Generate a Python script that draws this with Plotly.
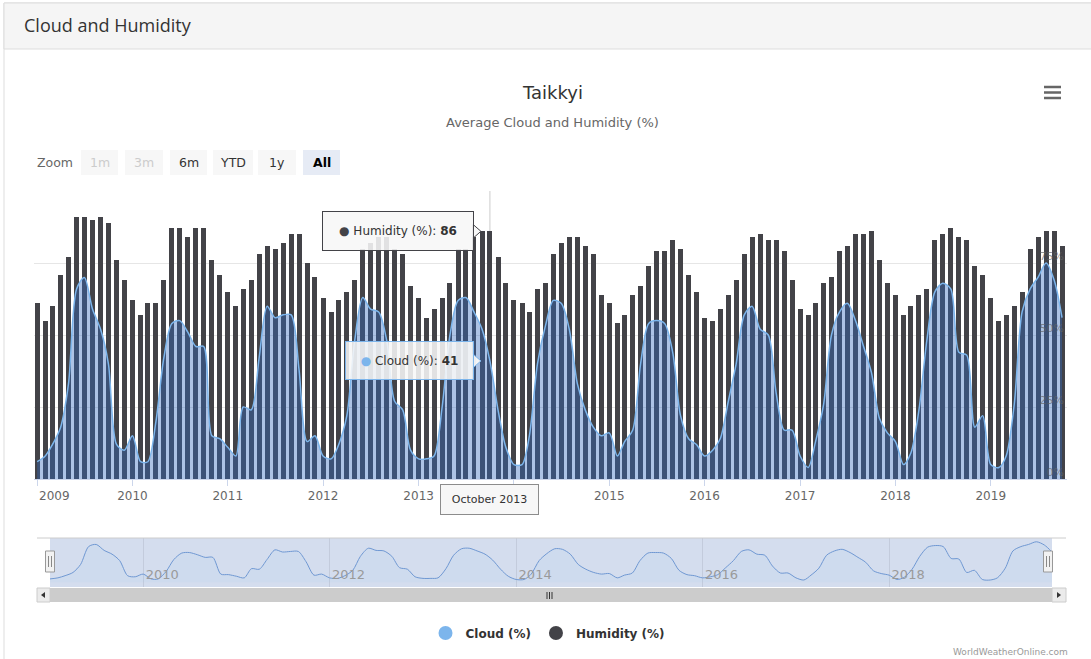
import plotly.graph_objects as go
import pandas as pd

W, H = 1091, 659


def px(x):
    return x / W


def py(y):
    return 1 - y / H


# ---------------- data ----------------
months = pd.date_range("2009-01-01", periods=130, freq="MS")

humidity_2009 = [61, 55, 60, 71, 77, 91, 91, 90, 91, 89, 76, 69]
humidity_2010 = [62, 57, 61, 61, 69, 87, 87, 84, 87, 87, 76, 71]
humidity_2011 = [65, 60, 66, 69, 78, 81, 80, 82, 85, 85, 75, 70]
humidity_2012 = [63, 58, 62, 65, 69, 80, 82, 84, 84, 80, 78, 67]
humidity_2013 = [63, 56, 59, 63, 68, 80, 80, 84, 86, 86, 77, 68]
humidity_2014 = [62, 61, 58, 66, 68, 78, 82, 84, 84, 81, 78, 64]
humidity_2015 = [61, 54, 57, 64, 67, 74, 79, 79, 83, 80, 71, 65]
humidity_2016 = [56, 55, 59, 64, 69, 78, 84, 85, 83, 83, 79, 69]
humidity_2017 = [59, 57, 61, 68, 70, 79, 81, 85, 85, 86, 76, 68]
humidity_2018 = [64, 57, 60, 64, 66, 83, 85, 87, 84, 83, 74, 71]
humidity_2019 = [63, 55, 57, 60, 65, 80, 84, 86, 86, 81]

cloud_2009 = [6, 8, 12, 18, 33, 66, 70, 59, 52, 40, 12, 10]
cloud_2010 = [15, 6, 6, 20, 42, 54, 55, 51, 46, 46, 15, 14]
cloud_2011 = [11, 8, 25, 24, 42, 60, 56, 57, 57, 38, 13, 15]
cloud_2012 = [8, 7, 12, 22, 48, 63, 59, 58, 48, 27, 24, 10]
cloud_2013 = [7, 7, 8, 25, 50, 62, 63, 58, 52, 41, 24, 11]
cloud_2014 = [5, 5, 15, 40, 53, 62, 61, 52, 33, 24, 18, 15]
cloud_2015 = [16, 8, 13, 17, 40, 54, 55, 54, 44, 22, 14, 12]
cloud_2016 = [8, 10, 14, 27, 40, 57, 60, 52, 50, 30, 17, 17]
cloud_2017 = [8, 4, 13, 26, 50, 58, 61, 55, 46, 37, 21, 16]
cloud_2018 = [13, 5, 9, 24, 48, 65, 68, 66, 44, 43, 18, 22]
cloud_2019 = [5, 4, 8, 26, 58, 66, 70, 75, 69, 56]

humidity = (humidity_2009 + humidity_2010 + humidity_2011 + humidity_2012 +
            humidity_2013 + humidity_2014 + humidity_2015 + humidity_2016 +
            humidity_2017 + humidity_2018 + humidity_2019)
cloud = (cloud_2009 + cloud_2010 + cloud_2011 + cloud_2012 + cloud_2013 +
         cloud_2014 + cloud_2015 + cloud_2016 + cloud_2017 + cloud_2018 +
         cloud_2019)

year_ticks = pd.date_range("2009-01-01", "2019-01-01", freq="YS")
year_labels = [str(d.year) for d in year_ticks]
y_tick_values = [0, 25, 50, 75, 100]
y_tick_labels = ["0%", "25%", "50%", "75%", ""]
zoom_buttons = ["1m", "3m", "6m", "YTD", "1y", "All"]
hover_index = 57  # October 2013

DAY_MS = 86400000
HC_FONT = "DejaVu Sans"
PANEL_FONT = "Open Sans"

# axis labels: first one is justified inside the plot (drawn separately);
# the one under the date tooltip is hidden by that tooltip
hover_year = months[hover_index].year + 1
x_tick_text = ["" if (i == 0 or lab == str(hover_year)) else lab
               for i, lab in enumerate(year_labels)]

fig = go.Figure()

fig.add_trace(go.Bar(
    x=months, y=humidity, name="Humidity (%)",
    marker=dict(color="#434348", line=dict(width=0)),
    width=[19 * DAY_MS] * len(months),
    showlegend=False, hoverinfo="skip",
))
fig.add_trace(go.Scatter(
    x=months, y=cloud, name="Cloud (%)", mode="lines",
    line=dict(color="#7cb5ec", width=1.5, shape="spline", smoothing=0.8),
    fill="tozeroy", fillcolor="rgba(50,105,190,0.40)",
    showlegend=False, hoverinfo="skip",
))
# navigator series
fig.add_trace(go.Scatter(
    x=months, y=cloud, xaxis="x2", yaxis="y2", mode="lines",
    line=dict(color="#6f98d3", width=1, shape="spline", smoothing=0.8),
    fill="tozeroy", fillcolor="rgba(124,181,236,0.06)",
    showlegend=False, hoverinfo="skip",
))
# legend entries
fig.add_trace(go.Scatter(x=[None], y=[None], mode="markers", name="Cloud (%)",
                         marker=dict(color="#7cb5ec", size=14)))
fig.add_trace(go.Scatter(x=[None], y=[None], mode="markers", name="Humidity (%)",
                         marker=dict(color="#434348", size=14)))

shapes = []


def rect(x0, y0, x1, y1, fill, line=None, lw=1, layer="above"):
    shapes.append(dict(type="rect", xref="paper", yref="paper",
                       x0=px(x0), x1=px(x1), y0=py(y1), y1=py(y0),
                       fillcolor=fill, layer=layer,
                       line=dict(color=line or "rgba(0,0,0,0)", width=lw if line else 0)))


def hline(x0, x1, y, color, width=1, layer="above"):
    shapes.append(dict(type="line", xref="paper", yref="paper",
                       x0=px(x0), x1=px(x1), y0=py(y), y1=py(y), layer=layer,
                       line=dict(color=color, width=width)))


def vline(x, y0, y1, color, width=1, layer="above"):
    shapes.append(dict(type="line", xref="paper", yref="paper",
                       x0=px(x), x1=px(x), y0=py(y0), y1=py(y1), layer=layer,
                       line=dict(color=color, width=width)))


# panel and header
rect(4, 3, 1096, 720, "rgba(0,0,0,0)", "#dddddd", layer="below")
rect(4, 3, 1096, 49, "#f5f5f5", "#dddddd", layer="below")

# hamburger
for yy in (87, 92.5, 98):
    hline(1044, 1061, yy, "#666666", 2.5)

# zoom buttons backgrounds
btn_x = [(81, 118), (125, 163), (170, 207), (213, 253), (258, 296), (303, 340)]
for i, (a, b) in enumerate(btn_x):
    rect(a, 150, b, 175, "#e6ebf5" if zoom_buttons[i] == "All" else "#f7f7f7", layer="below")

# navigator
hline(37, 1066, 538, "#cccccc", 1)
rect(50, 538, 1052, 587, "rgba(102,133,194,0.28)", layer="below")
for hx in (50, 1048):
    rect(hx - 4.5, 551, hx + 4.5, 572, "#f2f2f2", "#999999", 1)
    vline(hx - 1.5, 556, 567, "#888888", 1)
    vline(hx + 1.5, 556, 567, "#888888", 1)

# scrollbar
rect(37, 588, 1066, 602, "#f2f2f2")
rect(50, 588, 1052, 602, "#cccccc")
rect(37, 588, 50, 602, "#ebebeb", "#cccccc")
rect(1052, 588, 1066, 602, "#ebebeb", "#cccccc")
shapes.append(dict(type="path", xref="paper", yref="paper",
                   path=f"M {px(45)},{py(592)} L {px(41)},{py(595)} L {px(45)},{py(598)} Z",
                   fillcolor="#333333", line=dict(width=0)))
shapes.append(dict(type="path", xref="paper", yref="paper",
                   path=f"M {px(1057)},{py(592)} L {px(1061)},{py(595)} L {px(1057)},{py(598)} Z",
                   fillcolor="#333333", line=dict(width=0)))
for gx in (547, 549.5, 552):
    vline(gx, 592, 599, "#333333", 1)

# crosshair
shapes.append(dict(type="line", xref="x", yref="y",
                   x0=months[hover_index], x1=months[hover_index], y0=0, y1=100,
                   line=dict(color="#cccccc", width=1), layer="below"))

# tooltip pointers
shapes.append(dict(type="path", xref="x", yref="y", xsizemode="pixel", ysizemode="pixel",
                   xanchor=months[hover_index], yanchor=humidity[hover_index],
                   path="M -17,-7 L -9,0 L -17,7 Z",
                   fillcolor="rgba(247,247,247,0.95)", line=dict(color="#434348", width=1)))
shapes.append(dict(type="path", xref="x", yref="y", xsizemode="pixel", ysizemode="pixel",
                   xanchor=months[hover_index], yanchor=cloud[hover_index],
                   path="M -17,-7 L -9,0 L -17,7 Z",
                   fillcolor="rgba(247,247,247,0.95)", line=dict(color="#7cb5ec", width=1)))

annotations = []


def text(x, y, s, size=12, color="#333333", anchor="center", family=HC_FONT, **kw):
    annotations.append(dict(x=px(x), y=py(y), xref="paper", yref="paper", text=s,
                            showarrow=False, xanchor=anchor, yanchor="middle",
                            font=dict(family=family, size=size, color=color), **kw))


text(22, 25, "Cloud and Humidity", 18, "#333333", "left", family=PANEL_FONT)
text(552.5, 92, "Taikkyi", 18, "#333333")
text(552.5, 122, "Average Cloud and Humidity (%)", 13, "#666666")
text(35, 163, "Zoom", 12.5, "#666666", "left")
for i, (a, b) in enumerate(btn_x):
    lab = zoom_buttons[i]
    if lab in ("1m", "3m"):
        text((a + b) / 2, 162.5, lab, 12.5, "#cccccc")
    elif lab == "All":
        text((a + b) / 2, 162.5, "<b>All</b>", 12.5, "#000000")
    else:
        text((a + b) / 2, 162.5, lab, 12.5, "#333333")
text(1070, 652, "WorldWeatherOnline.com", 9, "#999999", "right")

# first year label, justified inside the plot like Highcharts does
annotations.append(dict(x=year_ticks[0], y=py(496), xref="x", yref="paper",
                        text=year_labels[0], showarrow=False, xanchor="left", yanchor="middle",
                        font=dict(family=HC_FONT, size=12, color="#666666")))

# tooltips
annotations.append(dict(
    x=months[hover_index], y=humidity[hover_index], xref="x", yref="y",
    text="<span style='color:#434348'>●</span> Humidity (%): <b>" + str(humidity[hover_index]) + "</b>",
    showarrow=False, xanchor="right", yanchor="middle", xshift=-16,
    bgcolor="rgba(247,247,247,0.88)", bordercolor="#434348", borderwidth=1, borderpad=3,
    width=144, height=32, font=dict(family=HC_FONT, size=12, color="#333333")))
annotations.append(dict(
    x=months[hover_index], y=cloud[hover_index], xref="x", yref="y",
    text="<span style='color:#7cb5ec'>●</span> Cloud (%): <b>" + str(cloud[hover_index]) + "</b>",
    showarrow=False, xanchor="right", yanchor="middle", xshift=-16,
    bgcolor="rgba(247,247,247,0.88)", bordercolor="#7cb5ec", borderwidth=1, borderpad=3,
    width=121, height=31, font=dict(family=HC_FONT, size=12, color="#333333")))
annotations.append(dict(
    x=months[hover_index], y=0, xref="x", yref="y",
    text=months[hover_index].strftime("%B %Y"),
    showarrow=False, xanchor="center", yanchor="top", yshift=-5,
    bgcolor="#f7f7f7", bordercolor="#8c8c8c", borderwidth=1, borderpad=3,
    width=91, height=23, font=dict(family=HC_FONT, size=11, color="#333333")))

fig.update_layout(
    width=W, height=H, margin=dict(l=0, r=0, t=0, b=0),
    paper_bgcolor="white", plot_bgcolor="white",
    font=dict(family=HC_FONT, color="#333333"),
    bargap=0,
    xaxis=dict(domain=[px(34), px(1067)], anchor="y", type="date",
               range=["2008-12-20", "2019-10-20"],
               tickvals=year_ticks, ticktext=x_tick_text,
               ticks="outside", ticklen=6, tickcolor="#ccd6eb",
               showline=True, linecolor="#ccd6eb", showgrid=False,
               tickfont=dict(family=HC_FONT, size=12, color="#666666"),
               fixedrange=True),
    yaxis=dict(domain=[py(479), py(191)], anchor="x", range=[0, 100],
               side="right", tickvals=y_tick_values, ticktext=y_tick_labels,
               ticklabelposition="inside", showgrid=True, gridcolor="#e6e6e6",
               zeroline=False, showline=False, ticks="",
               tickfont=dict(family=HC_FONT, size=11, color="rgba(102,102,102,0.7)"),
               ticklabelshift=-7, fixedrange=True),
    xaxis2=dict(domain=[px(50), px(1052)], anchor="y2", type="date",
                range=[months[0], months[-1]],
                tick0="2010-01-01", dtick="M24", tickformat="%Y",
                ticklabelposition="inside", ticks="", showgrid=True,
                gridcolor="#c3cbdc", showline=False, zeroline=False,
                tickfont=dict(family=HC_FONT, size=13, color="#9a9a9a"),
                ticklabelshift=19, ticklabelstandoff=2, fixedrange=True),
    yaxis2=dict(domain=[py(587), py(538)], anchor="x2", range=[-9, 82],
                visible=False, fixedrange=True),
    legend=dict(orientation="h", x=px(548), xanchor="center", y=py(633), yanchor="middle",
                font=dict(family=HC_FONT, size=12, color="#333333", weight="bold"),
                itemsizing="trace", bgcolor="rgba(0,0,0,0)"),
    shapes=shapes,
    annotations=annotations,
    hovermode=False,
)

fig.write_html("out.html", config={"displayModeBar": False},
               post_script="document.body.style.margin='0';document.body.style.overflow='hidden';")
